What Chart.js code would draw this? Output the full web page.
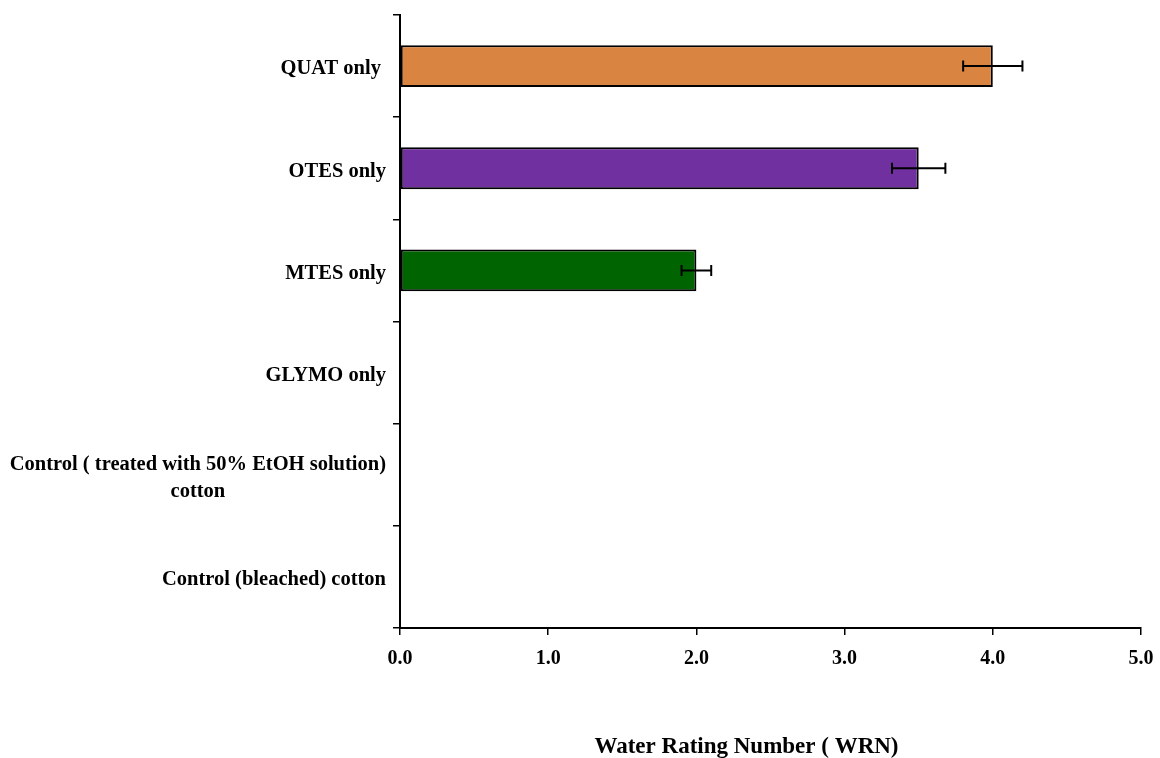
<!DOCTYPE html>
<html>
<head>
<meta charset="utf-8">
<script src="https://cdn.jsdelivr.net/npm/chart.js@4/dist/chart.umd.min.js"></script>
<style>
  html, body { margin: 0; padding: 0; background: #fff; }
  #wrap { width: 1160px; height: 758px; }
</style>
</head>
<body>
<div id="wrap"><canvas id="c" width="1160" height="758"></canvas></div>
<script>
const categories = [
  ['QUAT only '],
  ['OTES only'],
  ['MTES only'],
  ['GLYMO only'],
  ['Control ( treated with 50% EtOH solution)', 'cotton'],
  ['Control (bleached) cotton']
];
const values = [4.0, 3.5, 2.0, 0, 0, 0];
const errors = [0.2, 0.18, 0.1, 0, 0, 0];
const barColors = ['#DA8442', '#7030A0', '#006400', '#808080', '#808080', '#808080'];
const xTickValues = [0, 1, 2, 3, 4, 5];
const xTitle = 'Water Rating Number ( WRN)';

const LABEL_FONT = 'bold 20.5px "Liberation Serif", serif';

const labelPlugin = {
  id: 'catLabels',
  afterDraw(chart) {
    const ctx = chart.ctx;
    const y = chart.scales.y;
    const x = chart.scales.x;
    ctx.save();
    ctx.fillStyle = '#000';
    ctx.font = LABEL_FONT;
    ctx.textBaseline = 'middle';
    const right = y.right - 14;
    const lh = 27;
    categories.forEach((lines, i) => {
      const cy = y.getPixelForValue(i) + 3;
      const widths = lines.map(l => ctx.measureText(l).width);
      const w = Math.max(...widths);
      const center = right - w / 2;
      lines.forEach((l, k) => {
        const ly = cy + (k - (lines.length - 1) / 2) * lh;
        ctx.textAlign = 'center';
        ctx.fillText(l, center, ly);
      });
    });
    // axis title
    ctx.font = 'bold 23px "Liberation Serif", serif';
    ctx.textAlign = 'center';
    ctx.fillText(xTitle, (x.left + x.right) / 2 - 24, 747);
    ctx.restore();
  }
};

const errorBarPlugin = {
  id: 'errBars',
  afterDatasetsDraw(chart) {
    const ctx = chart.ctx;
    const xs = chart.scales.x, ys = chart.scales.y;
    ctx.save();
    ctx.strokeStyle = '#000';
    ctx.lineWidth = 2;
    values.forEach((v, i) => {
      const e = errors[i];
      if (!e) return;
      const y = ys.getPixelForValue(i);
      const x1 = xs.getPixelForValue(v - e);
      const x2 = xs.getPixelForValue(v + e);
      ctx.beginPath();
      ctx.moveTo(x1, y); ctx.lineTo(x2, y);
      ctx.moveTo(x1, y - 5.5); ctx.lineTo(x1, y + 5.5);
      ctx.moveTo(x2, y - 5.5); ctx.lineTo(x2, y + 5.5);
      ctx.stroke();
    });
    ctx.restore();
  }
};

new Chart(document.getElementById('c'), {
  type: 'bar',
  data: {
    labels: categories.map(l => l.join(' ')),
    datasets: [{
      data: values,
      backgroundColor: barColors,
      borderColor: '#000',
      borderWidth: 2,
      borderSkipped: false,
      categoryPercentage: 1,
      barPercentage: 0.41
    }]
  },
  options: {
    indexAxis: 'y',
    responsive: false,
    animation: false,
    layout: { padding: { top: 15, right: 19, left: 0, bottom: 0 } },
    plugins: { legend: { display: false }, tooltip: { enabled: false } },
    scales: {
      x: {
        type: 'linear',
        min: 0, max: 5,
        afterBuildTicks(scale) { scale.ticks = xTickValues.map(v => ({ value: v })); },
        afterFit(scale) { scale.height = 130; scale.paddingRight = 0; scale.paddingLeft = 0; },
        ticks: {
          color: '#000',
          padding: 12,
          font: { family: '"Liberation Serif", serif', size: 20, weight: 'bold' },
          callback: v => Number(v).toFixed(1),
          maxRotation: 0
        },
        grid: { drawOnChartArea: false, drawTicks: true, tickLength: 7, color: '#000', lineWidth: 1.5 },
        border: { display: true, color: '#000', width: 2 }
      },
      y: {
        type: 'category',
        afterFit(scale) { scale.width = 400; },
        ticks: { display: false },
        grid: { offset: true, drawOnChartArea: false, drawTicks: true, tickLength: 7, color: '#000', lineWidth: 1.5 },
        border: { display: true, color: '#000', width: 2 }
      }
    }
  },
  plugins: [errorBarPlugin, labelPlugin]
});
</script>
</body>
</html>
